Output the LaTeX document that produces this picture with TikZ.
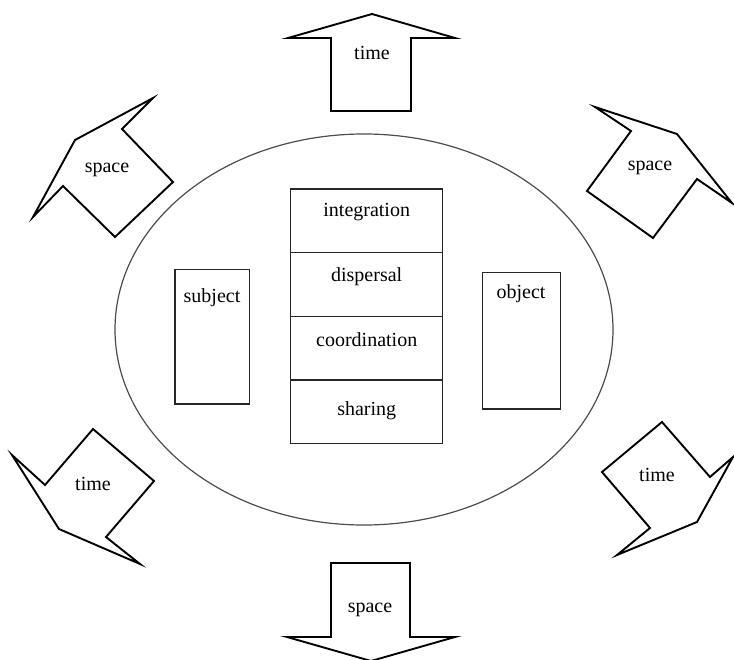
\documentclass[tikz,border=0pt]{standalone}
\usepackage{fontspec}
\setmainfont{Liberation Serif}
\usetikzlibrary{shapes.geometric}
\begin{document}
\begin{tikzpicture}[x=1pt, y=-1pt,
  arrowshape/.style={draw=black, line width=1.9pt, line join=miter, fill=white},
  box/.style={draw=black!85, line width=1.4pt, rectangle, inner sep=0pt, fill=white},
  lbl/.style={inner sep=0pt, font=\fontsize{20}{24}\selectfont},
  ring/.style={draw=black!70, line width=1.2pt, ellipse, inner sep=0pt}
]
\useasboundingbox (0,0) rectangle (734,659);

% central ellipse
\node[ring, minimum width=498pt, minimum height=391pt] (world) at (364,329.5) {};

% column of four stacked rows
\node[box, minimum width=152pt, minimum height=63.6pt] (row1) at (366.7,220.8) {};
\node[box, minimum width=152pt, minimum height=63.6pt] (row2) at (366.7,284.4) {};
\node[box, minimum width=152pt, minimum height=63.6pt] (row3) at (366.7,348.0) {};
\node[box, minimum width=152pt, minimum height=63.6pt] (row4) at (366.7,411.6) {};
\node[lbl] (t1) at (366.7,212) {integration};
\node[lbl] (t2) at (366.7,277) {dispersal};
\node[lbl] (t3) at (366.7,340) {coordination};
\node[lbl] (t4) at (366.7,411) {sharing};

% subject and object boxes
\node[box, minimum width=74.3pt, minimum height=134.7pt] (subj) at (212.2,336.7) {};
\node[lbl] (subjt) at (212,298) {subject};
\node[box, minimum width=78.4pt, minimum height=136.3pt] (obj) at (521.5,340.8) {};
\node[lbl] (objt) at (521,294) {object};

% block arrows around the ellipse
% top: time
\draw[arrowshape] (372,14) -- (455,38) -- (411,38) -- (411,111) -- (331,111) -- (331,38) -- (288,38) -- cycle;
\node[lbl] (a1) at (372,53) {time};
% bottom: space
\draw[arrowshape] (371,661) -- (455,637) -- (410,637) -- (410,563) -- (331,563) -- (331,637) -- (287,637) -- cycle;
\node[lbl] (a2) at (370,610) {space};
% upper left: space
\draw[arrowshape] (75,140) -- (153,98) -- (122,129) -- (173,182) -- (115,237) -- (63,186) -- (33,217) -- cycle;
\node[lbl] (a3) at (107,170) {space};
% upper right: space
\draw[arrowshape] (677,134) -- (595,107) -- (631,131) -- (587,191) -- (653,238) -- (697,179) -- (732,203) -- cycle;
\node[lbl] (a4) at (650,168) {space};
% lower left: time
\draw[arrowshape] (59,529) -- (12,455) -- (45,485) -- (93,429) -- (154,481) -- (106,537) -- (140,564) -- cycle;
\node[lbl] (a5) at (93,484) {time};
% lower right: time
\draw[arrowshape] (697,522) -- (617,555) -- (650,528) -- (602,472) -- (662,422) -- (710,477) -- (733,457) -- cycle;
\node[lbl] (a6) at (657,475) {time};
\end{tikzpicture}
\end{document}
